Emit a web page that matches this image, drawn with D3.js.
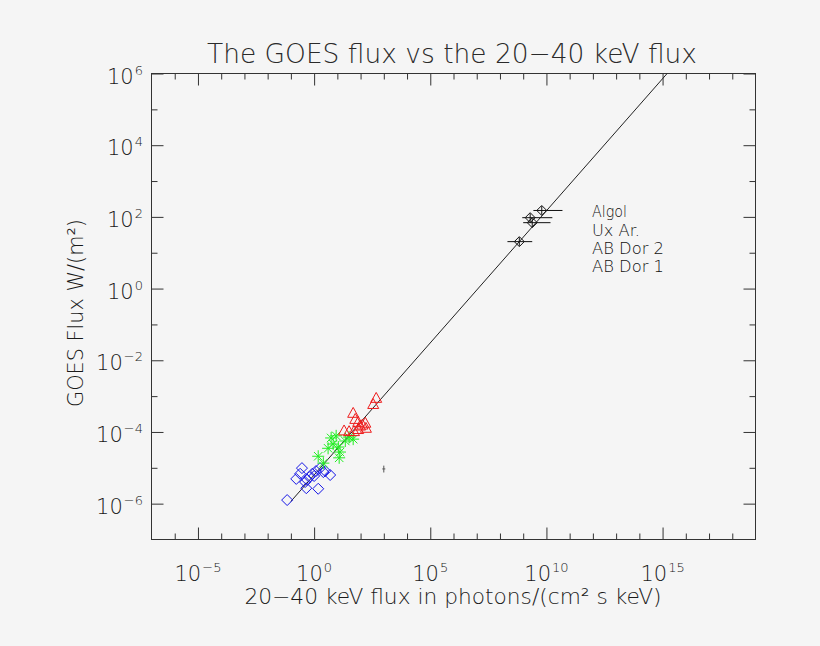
<!DOCTYPE html>
<html><head><meta charset="utf-8">
<script src="https://cdn.jsdelivr.net/npm/d3@7"></script>
<style>
html,body{margin:0;padding:0;background:#f5f5f5;}
svg{display:block;}
text{font-family:"DejaVu Sans","Liberation Sans",Arial,sans-serif;font-weight:200;fill:#1a1a1a;}
</style></head>
<body>
<svg id="chart" width="820" height="646"></svg>
<script>
// ---------- data ----------
const titleText = "The GOES flux vs the 20\u221240 keV flux";
const xLabelText = "20\u221240 keV flux in photons/(cm\u00b2 s keV)";
const yLabelText = "GOES Flux W/(m\u00b2)";
const legendNames = ["Algol", "Ux Ar.", "AB Dor 2", "AB Dor 1"];

const xMajorExp = [-5, 0, 5, 10, 15];
const xMinorExp = [-6,-4,-3,-2,-1,1,2,3,4,6,7,8,9,11,12,13,14,16,17,18];
const yMajorExp = [6, 4, 2, 0, -2, -4, -6];
const yMinorExp = [5, 3, 1, -1, -3, -5];

// blue diamonds
const blueX = [6.9e-2, 1.7e-1, 3.0e-1, 4.1e-1, 4.6e-1, 6.2e-1, 8.3e-1, 1.2, 1.8, 2.5, 1.5, 4.9, 3.0, 2.5e-1, 5.0e-1, 1.0];
const blueY = [1.26e-6, 4.9e-6, 9.8e-6, 4.0e-6, 2.7e-6, 5.5e-6, 6.8e-6, 8.1e-6, 9.8e-6, 7.6e-6, 2.6e-6, 6.3e-6, 8.1e-6, 6.8e-6, 4.6e-6, 5.9e-6];
// green asterisks
const greenX = [1.5, 2.5, 5.4, 6.6, 8.9, 11, 13, 12, 22, 32, 48, 4.0];
const greenY = [2.1e-5, 1.35e-5, 6.8e-5, 4.6e-5, 7.8e-5, 3.8e-5, 2.75e-5, 1.9e-5, 5.6e-5, 7.2e-5, 6.3e-5, 3.5e-5];
// red triangles
const redX = [470, 350, 48, 59, 79, 120, 160, 19.5, 32, 52, 79, 170, 95];
const redY = [8.9e-4, 6.0e-4, 3.4e-4, 2.3e-4, 1.9e-4, 1.6e-4, 1.8e-4, 1.1e-4, 1.05e-4, 1.05e-4, 1.2e-4, 1.3e-4, 1.5e-4];
// black diamonds with error bars
const blackX   = [6.3e9, 2.0e9, 2.45e9, 6.8e8];
const blackY   = [151, 95, 69, 20.4];
const blackXlo = [2.75e9, 9.1e8, 1.0e9, 2.1e8];
const blackXhi = [4.9e10, 1.8e10, 1.5e10, 2.45e9];
const blackYlo = [115, 72, 52, 15.5];
const blackYhi = [200, 125, 91, 27];
// lone error marker
const errX = [1.0e3];
const errY = [9.3e-6];
const errYlo = [7.4e-6];
const errYhi = [1.15e-5];
// fitted power law: log10(y) = fitLogA + fitSlope*log10(x)
const fitLogA = -5.2;
const fitSlope = 0.737;
const fitXRange = [1e-1, 1e16];

// ---------- layout ----------
const svg = d3.select("#chart");
const L = 151.5, R = 755.5, T = 73.5, B = 539.5;
const x = d3.scaleLog().domain([1e-7, 1e19]).range([L, R]);
const y = d3.scaleLog().domain([1e-7, 1e6]).range([B, T]);
const ink = "#333";

svg.append("rect").attr("width", 820).attr("height", 646).attr("fill", "#f5f5f5");

svg.append("defs").append("clipPath").attr("id", "clip")
  .append("rect").attr("x", L).attr("y", T).attr("width", R - L).attr("height", B - T);

function styleAxis(g) {
  g.select(".domain").remove();
  g.selectAll("line").attr("stroke", ink).attr("stroke-width", 1);
  g.selectAll("text").remove();
}
const xv = e => Math.pow(10, e);
// bottom
svg.append("g").attr("transform", `translate(0,${B})`)
  .call(d3.axisBottom(x).tickValues(xMajorExp.map(xv)).tickSize(-12).tickFormat("")).call(styleAxis);
svg.append("g").attr("transform", `translate(0,${B})`)
  .call(d3.axisBottom(x).tickValues(xMinorExp.map(xv)).tickSize(-6).tickFormat("")).call(styleAxis);
// top
svg.append("g").attr("transform", `translate(0,${T})`)
  .call(d3.axisTop(x).tickValues(xMajorExp.map(xv)).tickSize(-12).tickFormat("")).call(styleAxis);
svg.append("g").attr("transform", `translate(0,${T})`)
  .call(d3.axisTop(x).tickValues(xMinorExp.map(xv)).tickSize(-6).tickFormat("")).call(styleAxis);
// left
svg.append("g").attr("transform", `translate(${L},0)`)
  .call(d3.axisLeft(y).tickValues(yMajorExp.map(xv)).tickSize(-12).tickFormat("")).call(styleAxis);
svg.append("g").attr("transform", `translate(${L},0)`)
  .call(d3.axisLeft(y).tickValues(yMinorExp.map(xv)).tickSize(-6).tickFormat("")).call(styleAxis);
// right
svg.append("g").attr("transform", `translate(${R},0)`)
  .call(d3.axisRight(y).tickValues(yMajorExp.map(xv)).tickSize(-12).tickFormat("")).call(styleAxis);
svg.append("g").attr("transform", `translate(${R},0)`)
  .call(d3.axisRight(y).tickValues(yMinorExp.map(xv)).tickSize(-6).tickFormat("")).call(styleAxis);

svg.append("rect").attr("x", L).attr("y", T).attr("width", R - L).attr("height", B - T)
  .attr("fill", "none").attr("stroke", ink).attr("stroke-width", 1);

const expStr = e => (e < 0 ? "\u2212" + Math.abs(e) : String(e));

// x tick labels
xMajorExp.forEach(e => {
  const t = svg.append("text").attr("x", x(xv(e))).attr("y", 581)
    .attr("text-anchor", "middle").attr("font-size", 21).text("10");
  t.append("tspan").attr("dy", -9).attr("dx", 1).attr("font-size", 13).text(expStr(e));
});
// y tick labels
yMajorExp.forEach(e => {
  const t = svg.append("text").attr("x", 143).attr("y", y(xv(e)) + 10)
    .attr("text-anchor", "end").attr("font-size", 21).text("10");
  t.append("tspan").attr("dy", -9).attr("dx", 1).attr("font-size", 13).text(expStr(e));
});

// titles
svg.append("text").attr("x", 452).attr("y", 63).attr("text-anchor", "middle")
  .attr("font-size", 27).attr("textLength", 490).attr("lengthAdjust", "spacingAndGlyphs")
  .style("fill", "#2a2a2a").text(titleText);
svg.append("text").attr("x", 453).attr("y", 604).attr("text-anchor", "middle")
  .attr("font-size", 21).attr("textLength", 417).attr("lengthAdjust", "spacingAndGlyphs")
  .text(xLabelText);
svg.append("text").attr("transform", "translate(83,313) rotate(-90)").attr("text-anchor", "middle")
  .attr("font-size", 21).attr("textLength", 188).attr("lengthAdjust", "spacingAndGlyphs")
  .text(yLabelText);

// legend text
const legBase = [217, 235.5, 254, 272];
const legWidth = [35, 48, 72, 72];
legendNames.forEach((n, i) => {
  svg.append("text").attr("x", 592).attr("y", legBase[i]).attr("font-size", 16)
    .attr("textLength", legWidth[i]).attr("lengthAdjust", "spacingAndGlyphs")
    .style("fill", "#111").text(n);
});

const plot = svg.append("g").attr("clip-path", "url(#clip)");

// fit line
const fitY = xx => Math.pow(10, fitLogA + fitSlope * Math.log10(xx));
plot.append("line")
  .attr("x1", x(fitXRange[0])).attr("y1", y(fitY(fitXRange[0])))
  .attr("x2", x(fitXRange[1])).attr("y2", y(fitY(fitXRange[1])))
  .attr("stroke", "#222").attr("stroke-width", 1);

const diamond = s => `M0,${-s}L${s},0L0,${s}L${-s},0Z`;
const triangle = s => `M0,${-s}L${s},${s*0.8}L${-s},${s*0.8}Z`;
const asterisk = s => { const d = s * 0.7071;
  return `M${-s},0L${s},0M0,${-s}L0,${s}M${-d},${-d}L${d},${d}M${-d},${d}L${d},${-d}`; };

// blue diamonds
plot.selectAll(".blue").data(blueX).enter().append("path")
  .attr("transform", (d, i) => `translate(${x(d)},${y(blueY[i])})`)
  .attr("d", diamond(5.5)).attr("fill", "none").attr("stroke", "#1414e6").attr("stroke-width", 1);
// green asterisks
plot.selectAll(".green").data(greenX).enter().append("path")
  .attr("transform", (d, i) => `translate(${x(d)},${y(greenY[i])})`)
  .attr("d", asterisk(6)).attr("fill", "none").attr("stroke", "#22ee22").attr("stroke-width", 1);
// red triangles
plot.selectAll(".red").data(redX).enter().append("path")
  .attr("transform", (d, i) => `translate(${x(d)},${y(redY[i])})`)
  .attr("d", triangle(5.5)).attr("fill", "none").attr("stroke", "#ee1c1c").attr("stroke-width", 1);

// black diamonds + error bars
blackX.forEach((d, i) => {
  const cx = x(d), cy = y(blackY[i]);
  plot.append("line").attr("x1", x(blackXlo[i])).attr("x2", x(blackXhi[i]))
    .attr("y1", cy).attr("y2", cy).attr("stroke", "#111");
  plot.append("line").attr("x1", cx).attr("x2", cx)
    .attr("y1", y(blackYlo[i])).attr("y2", y(blackYhi[i])).attr("stroke", "#111");
  plot.append("path").attr("transform", `translate(${cx},${cy})`)
    .attr("d", diamond(5)).attr("fill", "none").attr("stroke", "#111");
});

// lone error marker
errX.forEach((d, i) => {
  const cx = x(d);
  plot.append("line").attr("x1", cx).attr("x2", cx)
    .attr("y1", y(errYlo[i])).attr("y2", y(errYhi[i])).attr("stroke", "#555");
  plot.append("line").attr("x1", cx - 1.5).attr("x2", cx + 1.5)
    .attr("y1", y(errY[i])).attr("y2", y(errY[i])).attr("stroke", "#555");
});
</script>
</body></html>
